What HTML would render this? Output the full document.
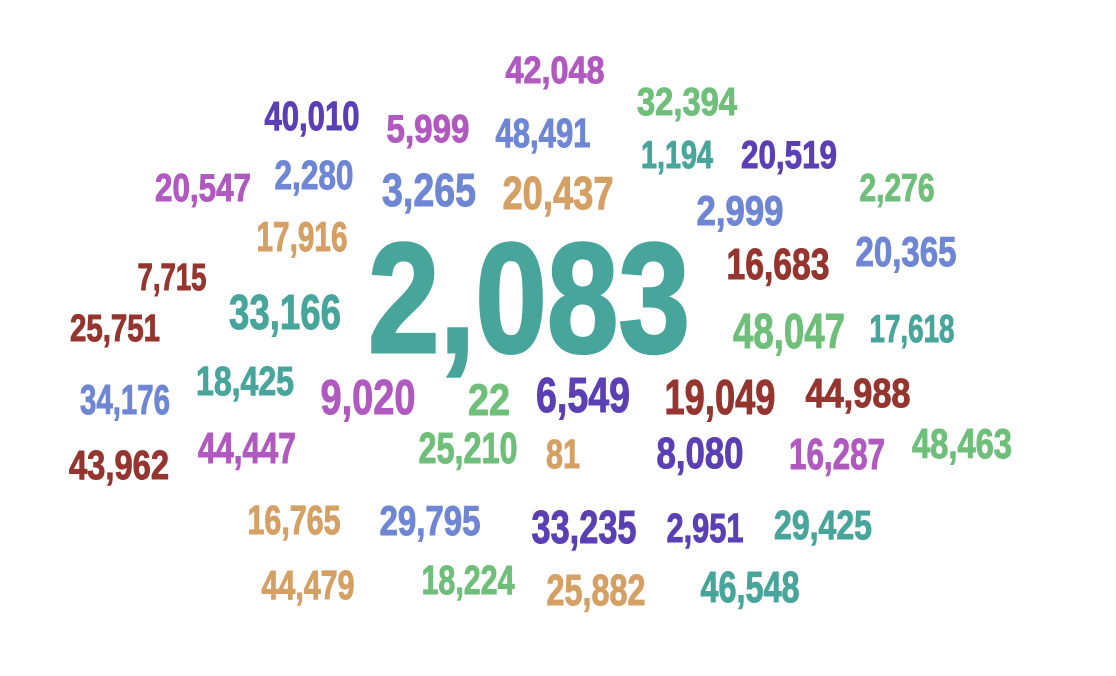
<!DOCTYPE html>
<html><head><meta charset="utf-8"><style>
html,body{margin:0;padding:0;background:#fff;width:1116px;height:676px;overflow:hidden}
text{font-family:"Liberation Sans Narrow","Liberation Sans",sans-serif;font-weight:bold}
</style></head><body>
<svg id="cloud" width="1116" height="676" viewBox="0 0 1116 676"></svg>
<script>
const labels=["42,048","32,394","40,010","5,999","48,491","1,194","20,519","20,547","2,280","3,265","20,437","2,276","2,999","17,916","2,083","16,683","20,365","7,715","33,166","25,751","48,047","17,618","18,425","34,176","9,020","22","6,549","19,049","44,988","44,447","25,210","81","8,080","16,287","48,463","43,962","16,765","29,795","33,235","2,951","29,425","44,479","18,224","25,882","46,548"];
const colorIdx=[2,5,1,2,3,0,1,2,3,3,4,5,3,4,0,6,3,6,0,6,5,0,0,3,2,5,1,6,6,2,5,4,1,2,5,6,4,3,1,1,0,4,5,4,0];
const palette=["#48a59b","#5b3fb4","#b05abf","#6e86d4","#d4a063","#6fbf7a","#94352f"];
// layout: center x, baseline y, width, digit height
const cx=[555,687,312,428,543,677,789,203,314,429,558,897,740,302,529,778,906,172,285,115,789,912,245,125,368,489,583,720,858,247,468,563,700,837,962,119,294,430,584,705,823,308,468,596,750];
const by=[83,115,130,142,147,168,168,201,189,206,209,201,225,251,352,279,266,290,329,341,348,342,395,414,414,415,412,414,407,463,463,468,468,469,458,479,534,535,543,542,539,599,594,605,602];
const wd=[99,100,95,83,95,72,96,96,79,94,111,75,87,91,322,103,101,69,112,90,112,85,98,90,95,42,94,111,105,98,99,34,87,96,100,100,93,101,105,77,98,93,93,99,99];
const dh=[27,28,29,28,29,28,28,28,29,33,33,28,30,30,112,31,30,27,35,27,35,28,29,30,35,32,35,35,29,31,31,29,31,31,30,29,29,30,33,29,29,29,29,31,31];
const svg=document.getElementById('cloud');
labels.forEach((l,i)=>{
  const t=document.createElementNS('http://www.w3.org/2000/svg','text');
  
  
  t.setAttribute('x',cx[i]);t.setAttribute('y',by[i]);
  t.setAttribute('text-anchor','middle');
  t.setAttribute('font-size',(dh[i]/0.716).toFixed(1));
  t.setAttribute('textLength',wd[i]);
  t.setAttribute('lengthAdjust','spacingAndGlyphs');
  t.setAttribute('fill',palette[colorIdx[i]]);
  t.setAttribute('stroke',palette[colorIdx[i]]);
  t.setAttribute('stroke-width',i===14?'3':'1');
  t.textContent=l;
  svg.appendChild(t);
});
</script>
</body></html>
